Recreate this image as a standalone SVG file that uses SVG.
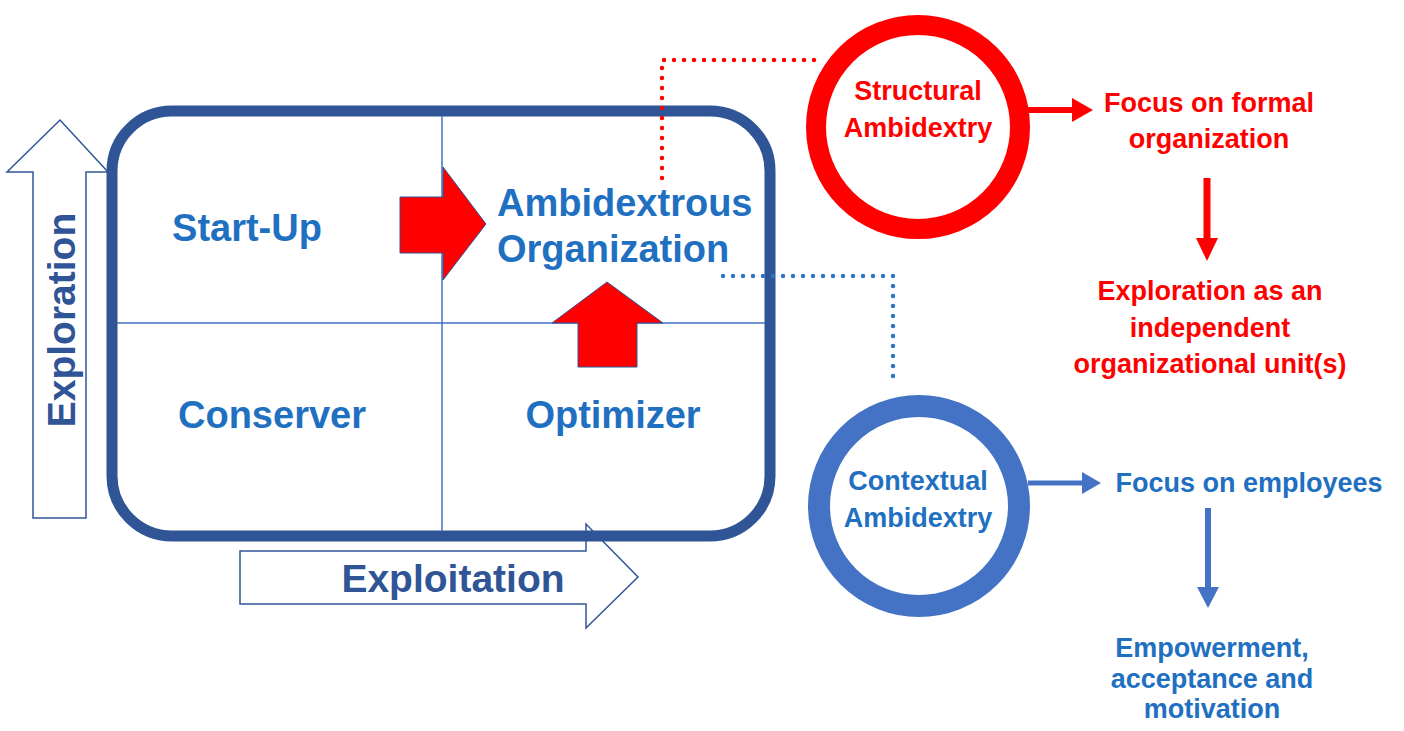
<svg xmlns="http://www.w3.org/2000/svg" width="1404" height="731" viewBox="0 0 1404 731">
<style>
.axis{fill:#fff;stroke:#2F5597;stroke-width:1.5;stroke-linejoin:miter}
.axt{font-family:"Liberation Sans",Arial,sans-serif;font-weight:bold;fill:#2F5597}
.q{font-family:"Liberation Sans",Arial,sans-serif;font-weight:bold;fill:#1F70C1;font-size:38px}
.rt{font-family:"Liberation Sans",Arial,sans-serif;font-weight:bold;fill:#FF0000;font-size:27px;text-anchor:middle}
.bt{font-family:"Liberation Sans",Arial,sans-serif;font-weight:bold;fill:#1F70C1;font-size:27px;text-anchor:middle}
.div{stroke:#4472C4;stroke-width:1.5;fill:none}
.redarrow{fill:#FF0000;stroke:#2F5597;stroke-width:1}
.dotr{fill:none;stroke:#FF0000;stroke-width:4.5;stroke-linecap:round;stroke-dasharray:0 10}
.dotb{fill:none;stroke:#2E75C6;stroke-width:4.5;stroke-linecap:round;stroke-dasharray:0 10}
</style>
<rect width="1404" height="731" fill="#fff"/>
<g id="exploration-axis">
<polygon class="axis" points="33,518 86,518 86,172 108,172 60,120 7,172 33,172"/>
<text class="axt" font-size="39" text-anchor="middle" transform="translate(75,320) rotate(-90)">Exploration</text>
</g>
<g id="exploitation-axis">
<polygon class="axis" points="240,551 586,551 586,524 638,577 586,628 586,604 240,604"/>
<text class="axt" font-size="39" text-anchor="middle" x="453" y="592">Exploitation</text>
</g>
<g id="matrix">
<rect x="112" y="111" width="658" height="425" rx="60" ry="60" fill="none" stroke="#2F5597" stroke-width="11"/>
<line class="div" x1="442" y1="116" x2="442" y2="531"/>
<line class="div" x1="117" y1="323" x2="765" y2="323"/>
</g>
<g id="startup"><text class="q" x="247" y="241" text-anchor="middle" font-size="40">Start-Up</text></g>
<g id="conserver"><text class="q" x="272" y="428" text-anchor="middle">Conserver</text></g>
<g id="optimizer"><text class="q" x="613" y="428" text-anchor="middle" font-size="39">Optimizer</text></g>
<g id="ambidextrous">
<text class="q" x="497" y="216" font-size="39">Ambidextrous</text>
<text class="q" x="497" y="262" font-size="39">Organization</text>
</g>
<g id="red-arrows">
<polygon class="redarrow" points="400,197 443,197 443,167 486,224 443,280 443,253 400,253"/>
<polygon class="redarrow" points="578,367 637,367 637,323 663,323 607,282 552,323 578,323"/>
</g>
<g id="structural">
<circle cx="918" cy="127" r="102" fill="#fff" stroke="#FF0000" stroke-width="20"/>
<text class="rt" x="918" y="100">Structural</text>
<text class="rt" x="918" y="137">Ambidextry</text>
</g>
<g id="contextual">
<circle cx="919" cy="506" r="100" fill="#fff" stroke="#4472C4" stroke-width="22"/>
<text class="bt" x="918" y="490">Contextual</text>
<text class="bt" x="918" y="527">Ambidextry</text>
</g>
<g id="focus-formal">
<text class="rt" x="1209" y="112">Focus on formal</text>
<text class="rt" x="1209" y="148">organization</text>
</g>
<g id="exploration-unit">
<text class="rt" x="1210" y="300">Exploration as an</text>
<text class="rt" x="1210" y="337">independent</text>
<text class="rt" x="1210" y="373">organizational unit(s)</text>
</g>
<g id="focus-employees">
<text class="bt" x="1249" y="492">Focus on employees</text>
</g>
<g id="empowerment">
<text class="bt" x="1212" y="657">Empowerment,</text>
<text class="bt" x="1212" y="688">acceptance and</text>
<text class="bt" x="1212" y="718">motivation</text>
</g>
<g id="connectors">
<path class="dotr" d="M662,178 L662,60 L820,60"/>
<path class="dotb" d="M723,276 L893,276 L893,386"/>
<line x1="1028" y1="110" x2="1073" y2="110" stroke="#FF0000" stroke-width="6"/>
<polygon points="1072,98 1093,110 1072,122" fill="#FF0000"/>
<line x1="1207" y1="178" x2="1207" y2="239" stroke="#FF0000" stroke-width="7"/>
<polygon points="1196,238 1207,261 1218,238" fill="#FF0000"/>
<line x1="1028" y1="483" x2="1083" y2="483" stroke="#4472C4" stroke-width="5"/>
<polygon points="1082,472 1101,483 1082,494" fill="#4472C4"/>
<line x1="1208" y1="508" x2="1208" y2="588" stroke="#4472C4" stroke-width="6"/>
<polygon points="1197,587 1208,608 1219,587" fill="#4472C4"/>
</g>
</svg>
